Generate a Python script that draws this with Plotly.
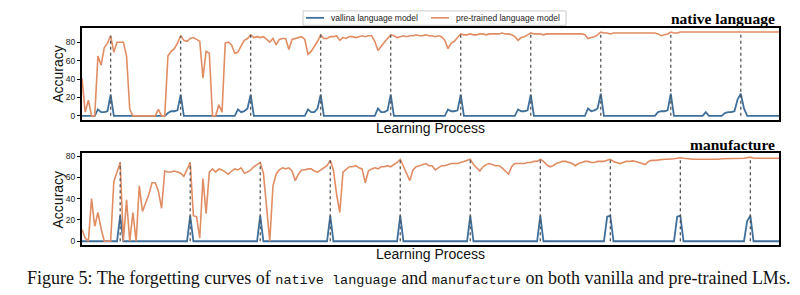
import plotly.graph_objects as go

# ---------------- data ----------------
steps = list(range(220))

native_pre = [
    41, 4, 17, 0, 0, 65, 55, 74, 79, 87, 69, 80, 80, 80, 65, 7, 0, 0, 0, 0, 0, 0,
    0, 0, 7, 0, 0, 65, 70, 73, 79, 87, 82, 81, 84, 85, 83, 81, 41, 70, 68, 0, 0, 12,
    4, 79, 80, 77, 68, 69, 76, 82, 84, 88, 85, 86, 85, 86, 83, 80, 84, 77, 83, 84, 84, 72,
    83, 84, 85, 86, 83, 67, 70, 75, 81, 88, 84, 84, 86, 86, 87, 82, 85, 84, 86, 86, 85, 86,
    87, 86, 87, 87, 81, 71, 76, 80, 84, 88, 87, 85, 86, 87, 86, 87, 87, 88, 87, 87, 88, 87,
    87, 86, 87, 86, 82, 73, 79, 81, 85, 89, 88, 88, 89, 88, 88, 89, 89, 88, 89, 89, 89, 89,
    90, 89, 89, 88, 86, 82, 85, 86, 88, 90, 89, 89, 89, 88, 89, 89, 89, 89, 89, 89, 89, 89,
    89, 89, 89, 89, 88, 84, 85, 86, 88, 91, 90, 90, 89, 90, 90, 90, 90, 90, 90, 90, 90, 90,
    90, 90, 90, 90, 90, 89, 87, 88, 89, 91, 90, 90, 91, 91, 91, 91, 91, 91, 91, 91, 91, 91,
    91, 91, 91, 91, 91, 91, 91, 91, 91, 91, 91, 91, 91, 91, 91, 91, 91, 91, 91, 91, 91, 91,
]

native_van = [
    0, 0, 0, 0, 0, 7, 4, 4, 5, 23, 0, 0, 0, 0, 0, 0, 0, 0, 0, 0, 0, 0,
    0, 0, 0, 0, 0, 3, 5, 5, 6, 23, 0, 0, 0, 0, 0, 0, 0, 0, 0, 0, 0, 0,
    0, 0, 0, 0, 0, 7, 4, 5, 8, 23, 0, 0, 0, 0, 0, 0, 0, 0, 0, 0, 0, 0,
    0, 0, 0, 0, 0, 7, 4, 4, 8, 23, 0, 0, 0, 0, 0, 0, 0, 0, 0, 0, 0, 0,
    0, 0, 0, 0, 0, 8, 4, 4, 6, 23, 0, 0, 0, 0, 0, 0, 0, 0, 0, 0, 0, 0,
    0, 0, 0, 0, 0, 7, 5, 5, 6, 23, 0, 0, 0, 0, 0, 0, 0, 0, 0, 0, 0, 0,
    0, 0, 0, 0, 0, 7, 5, 5, 6, 23, 0, 0, 0, 0, 0, 0, 0, 0, 0, 0, 0, 0,
    0, 0, 0, 0, 0, 8, 5, 6, 8, 24, 0, 0, 0, 0, 0, 0, 0, 0, 0, 0, 0, 0,
    0, 0, 0, 0, 0, 4, 5, 5, 6, 24, 0, 0, 0, 0, 0, 0, 0, 0, 0, 0, 4, 0,
    0, 0, 0, 0, 3, 4, 4, 5, 18, 24, 8, 0, 0, 0, 0, 0, 0, 0, 0, 0, 0, 0,
]

manu_pre = [
    11, 3, 0, 40, 14, 27, 12, 0, 0, 0, 56, 65, 74, 0, 39, 0, 27, 0, 52, 28, 36, 44,
    55, 55, 47, 31, 66, 65, 65, 66, 65, 64, 61, 67, 74, 24, 23, 3, 59, 26, 65, 68, 65, 68,
    67, 65, 63, 66, 68, 67, 69, 64, 65, 67, 70, 72, 74, 64, 31, 0, 52, 63, 67, 69, 68, 69,
    66, 57, 63, 67, 67, 68, 68, 66, 65, 67, 69, 71, 76, 67, 44, 27, 65, 68, 70, 70, 71, 69,
    68, 55, 66, 68, 69, 68, 70, 70, 71, 70, 72, 74, 77, 70, 63, 57, 67, 70, 71, 72, 73, 71,
    71, 67, 69, 71, 71, 72, 73, 73, 73, 74, 75, 76, 77, 72, 69, 66, 70, 72, 73, 72, 71, 71,
    69, 66, 63, 70, 73, 73, 73, 73, 74, 74, 75, 75, 77, 75, 72, 70, 71, 73, 74, 75, 75, 74,
    73, 71, 73, 74, 75, 75, 74, 74, 75, 75, 75, 76, 77, 75, 74, 73, 74, 75, 75, 75.5, 75, 74,
    73, 72, 75, 76, 76, 76.5, 77, 77, 77, 77, 77.5, 78, 78.5, 78, 77.5, 77, 77, 77, 77, 77, 76.5, 76.5,
    77, 77, 77, 77.5, 77.5, 77.5, 77.5, 77.5, 77.5, 78, 78, 78.5, 79, 78, 78, 78, 78, 78, 78, 78, 78, 78,
]

manu_van = [
    0, 0, 0, 0, 0, 0, 0, 0, 0, 0, 0, 0, 24, 0, 0, 0, 0, 0, 0, 0, 0, 0,
    0, 0, 0, 0, 0, 0, 0, 0, 0, 0, 0, 0, 24, 0, 0, 0, 0, 0, 0, 0, 0, 0,
    0, 0, 0, 0, 0, 0, 0, 0, 0, 0, 0, 0, 24, 0, 0, 0, 0, 0, 0, 0, 0, 0,
    0, 0, 0, 0, 0, 0, 0, 0, 0, 0, 0, 0, 24, 0, 0, 0, 0, 0, 0, 0, 0, 0,
    0, 0, 0, 0, 0, 0, 0, 0, 0, 0, 0, 0, 24, 0, 0, 0, 0, 0, 0, 0, 0, 0,
    0, 0, 0, 0, 0, 0, 0, 0, 0, 0, 0, 0, 24, 0, 0, 0, 0, 0, 0, 0, 0, 0,
    0, 0, 0, 0, 0, 0, 0, 0, 0, 0, 0, 0, 24, 0, 0, 0, 0, 0, 0, 0, 0, 0,
    0, 0, 0, 0, 0, 0, 0, 0, 0, 0, 0, 23, 24, 0, 0, 0, 0, 0, 0, 0, 0, 0,
    0, 0, 0, 0, 0, 0, 0, 0, 0, 0, 0, 23, 24, 0, 0, 0, 0, 0, 0, 0, 0, 0,
    0, 0, 0, 0, 0, 0, 0, 0, 0, 0, 0, 19, 24, 0, 0, 0, 0, 0, 0, 0, 0, 0,
]

native_marks = [9, 31, 53, 75, 97, 119, 141, 163, 185, 207]
manu_marks = [12, 34, 56, 78, 100, 122, 144, 166, 188, 210]
y_ticks = [0, 20, 40, 60, 80]
panel_titles = ["native language", "manufacture"]
series_names = ["vallina language model", "pre-trained language model"]
x_title = "Learning Process"
y_title = "Accuracy"
MONO = "'Liberation Mono', 'DejaVu Sans Mono', monospace"
caption = ('Figure 5: The forgetting curves of '
           '<span style="font-family:' + MONO + ';font-size:13.5px">native language</span> and '
           '<span style="font-family:' + MONO + ';font-size:13.5px">manufacture</span> '
           'on both vanilla and pre-trained LMs.')

# ---------------- style ----------------
W, H = 800, 295
BLUE = "#3f6f9b"
ORANGE = "#e18d63"
SANS = "Liberation Sans, Arial, sans-serif"
SERIF = "Liberation Serif, Times New Roman, serif"

fig = go.Figure()


def add_panel(pre, van, marks, xa, ya):
    fig.add_trace(go.Scatter(x=steps, y=van, mode="lines", name=series_names[0],
                             line=dict(color=BLUE, width=1.8), showlegend=False,
                             xaxis=xa, yaxis=ya))
    fig.add_trace(go.Scatter(x=steps, y=pre, mode="lines", name=series_names[1],
                             line=dict(color=ORANGE, width=1.6), showlegend=False,
                             xaxis=xa, yaxis=ya))
    vx, vy = [], []
    for m in marks:
        vx += [m, m, None]
        vy += [0, pre[m], None]
    fig.add_trace(go.Scatter(x=vx, y=vy, mode="lines", showlegend=False, hoverinfo="skip",
                             line=dict(color="#555555", width=1.3, dash="dot"),
                             xaxis=xa, yaxis=ya))


add_panel(native_pre, native_van, native_marks, "x", "y")
add_panel(manu_pre, manu_van, manu_marks, "x2", "y2")

xd = [82 / W, 779 / W]
top_dom = [1 - 119 / H, 1 - 26 / H]
bot_dom = [1 - 246 / H, 1 - 153 / H]

frame = dict(showline=True, mirror=True, linecolor="black", linewidth=2,
             showgrid=False, zeroline=False)
xcommon = dict(domain=xd, range=[0, 219], showticklabels=False, ticks="", **frame)
ycommon = dict(tickvals=y_ticks, ticks="outside", ticklen=3, tickwidth=1, tickcolor="black",
               tickfont=dict(family=SANS, size=8.5, color="#222222"), **frame)

fig.update_layout(
    width=W, height=H, margin=dict(l=0, r=0, t=0, b=0),
    paper_bgcolor="white", plot_bgcolor="white",
    xaxis=dict(anchor="y", **xcommon),
    yaxis=dict(anchor="x", domain=top_dom, range=[-4.3, 95.7], **ycommon),
    xaxis2=dict(anchor="y2", **xcommon),
    yaxis2=dict(anchor="x2", domain=bot_dom, range=[-4, 82.5], **ycommon),
    showlegend=False,
)


def px(x):
    return x / W


def py(y):
    return 1 - y / H


# legend box (compact, matplotlib style)
LEG_Y = 16
shapes = [
    dict(type="rect", xref="paper", yref="paper", x0=px(303), x1=px(566), y0=py(23.5), y1=py(9),
         line=dict(color="#cccccc", width=1), fillcolor="white", layer="above"),
    dict(type="line", xref="paper", yref="paper", x0=px(306), x1=px(324), y0=py(LEG_Y), y1=py(LEG_Y),
         line=dict(color=BLUE, width=1.8), layer="above"),
    dict(type="line", xref="paper", yref="paper", x0=px(431), x1=px(449), y0=py(LEG_Y), y1=py(LEG_Y),
         line=dict(color=ORANGE, width=1.6), layer="above"),
]
fig.update_layout(shapes=shapes)

ann = []
for xl, name in zip((329, 454), series_names):
    ann.append(dict(text=name, x=px(xl), y=py(LEG_Y + 0.5), xref="paper", yref="paper",
                    showarrow=False, xanchor="left", yanchor="middle",
                    font=dict(family=SANS, size=8.5, color="#222222")))
for yc in (72.5, 199.5):
    ann.append(dict(text=y_title, x=px(58), y=py(yc), xref="paper", yref="paper",
                    textangle=-90, showarrow=False, xanchor="center", yanchor="middle",
                    font=dict(family=SANS, size=14, color="#111111")))
for yc in (127.5, 254.5):
    ann.append(dict(text=x_title, x=px(430.5), y=py(yc), xref="paper", yref="paper",
                    showarrow=False, xanchor="center", yanchor="middle",
                    font=dict(family=SANS, size=14, color="#111111")))
for t, yc in zip(panel_titles, (17, 143.5)):
    ann.append(dict(text="<b>" + t + "</b>", x=px(777), y=py(yc), xref="paper", yref="paper",
                    showarrow=False, xanchor="right", yanchor="middle",
                    font=dict(family=SERIF, size=15.5, color="#000000")))
ann.append(dict(text=caption, x=px(408), y=py(279), xref="paper", yref="paper",
                showarrow=False, xanchor="center", yanchor="middle",
                font=dict(family=SERIF, size=18, color="#111111")))
fig.update_layout(annotations=ann)

fig.write_html("out.html")
